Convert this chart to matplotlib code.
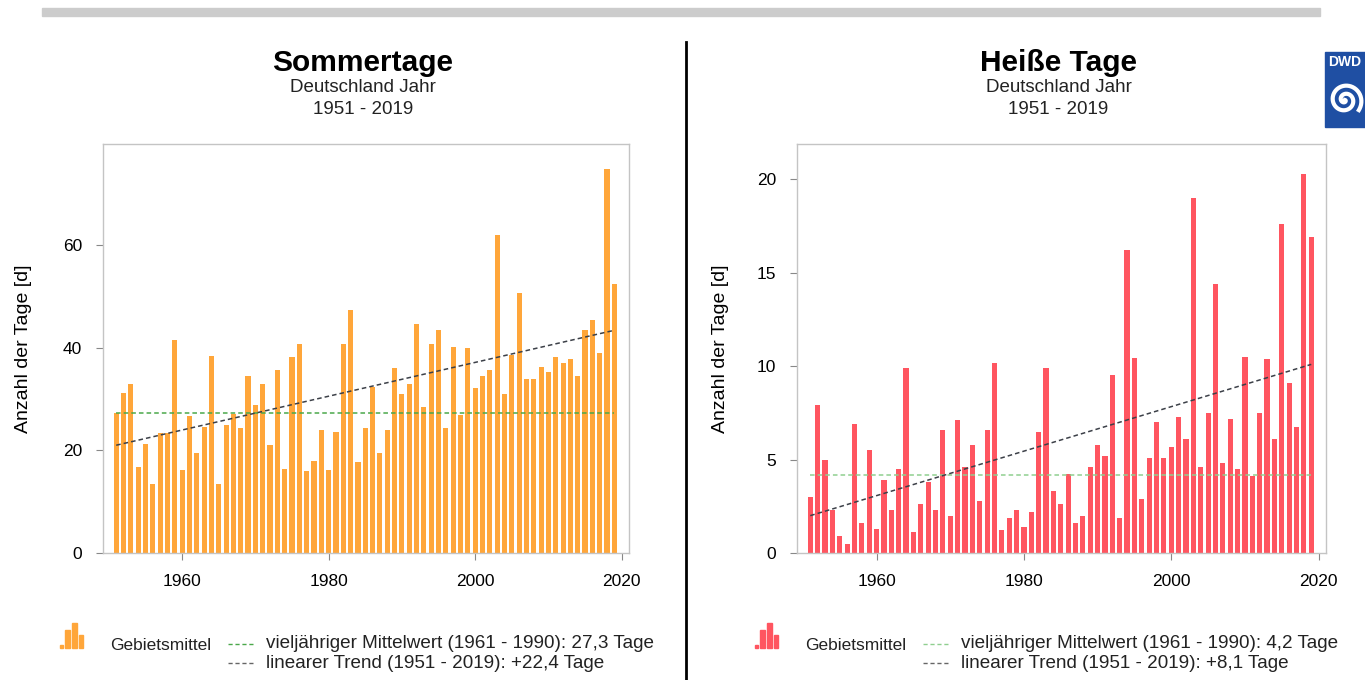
import numpy as np
import matplotlib
matplotlib.use('Agg')
from matplotlib import pyplot as plt
from matplotlib.patches import Rectangle
from matplotlib.lines import Line2D

plt.rcParams['font.family'] = ['Liberation Sans', 'DejaVu Sans']

# Data
years = list(range(1951, 2020))

sommertage = [27.2, 31.1, 33.0, 16.8, 21.2, 13.4, 23.3, 23.3, 41.5, 16.2,
              26.7, 19.5, 24.5, 38.4, 13.4, 24.9, 27.1, 24.3, 34.4, 28.8,
              33.0, 21.0, 35.6, 16.3, 38.1, 40.7, 16.0, 18.0, 24.0, 16.2,
              23.6, 40.7, 47.3, 17.8, 24.3, 32.4, 19.4, 24.0, 36.0, 31.0,
              33.0, 44.7, 28.5, 40.8, 43.4, 24.3, 40.2, 26.9, 39.9, 32.1,
              34.4, 35.6, 62.0, 31.0, 38.6, 50.6, 34.0, 34.0, 36.3, 35.3,
              38.2, 37.0, 37.9, 34.4, 43.4, 45.4, 38.9, 74.9, 52.4]

heisse_tage = [3.0, 7.9, 5.0, 2.3, 0.9, 0.5, 6.9, 1.6, 5.5, 1.3,
               3.9, 2.3, 4.5, 9.9, 1.1, 2.6, 3.8, 2.3, 6.6, 2.0,
               7.1, 4.6, 5.8, 2.8, 6.6, 10.2, 1.25, 1.9, 2.3, 1.4,
               2.2, 6.5, 9.9, 3.3, 2.6, 4.25, 1.6, 2.0, 4.6, 5.8,
               5.2, 9.55, 1.9, 16.2, 10.45, 2.9, 5.1, 7.0, 5.1, 5.7,
               7.3, 6.1, 19.0, 4.6, 7.5, 14.4, 4.8, 7.2, 4.5, 10.5,
               4.1, 7.5, 10.4, 6.1, 17.6, 9.1, 6.75, 20.3, 16.9]

# mean 1961-1990 and trend endpoints (1951, 2019)
mean_sommer = 27.3
trend_sommer = [21.0, 43.4]
mean_heiss = 4.2
trend_heiss = [2.0, 10.1]

W, H = 1365, 680
fig = plt.figure(figsize=(13.65, 6.8), dpi=100)


def fx(px):
    return px / W


def fy(py):
    return 1 - py / H


def draw_panel(left_px, right_px, values, color, mean, trend, ylim, yticks,
               title, mean_color, mean_txt, trend_txt, leg_x, labelpad):
    ax = fig.add_axes([fx(left_px), fy(553), fx(right_px - left_px), (553 - 144) / H])
    ax.bar(years, values, width=0.7, color=color, zorder=2)
    ax.plot([years[0], years[-1]], [mean, mean], color=mean_color, ls=(0, (3, 2)), lw=1.1, zorder=3)
    ax.plot([years[0], years[-1]], trend, color='#3c4048', ls=(0, (3, 2)), lw=1.1, zorder=4)
    ax.set_xlim(1949.2, 2021.0)
    ax.set_ylim(*ylim)
    ax.set_xticks([1960, 1980, 2000, 2020])
    ax.set_yticks(yticks)
    for s in ax.spines.values():
        s.set_color('#c4c4c4')
        s.set_linewidth(1.0)
    ax.tick_params(direction='out', length=5, color='#888888', labelsize=12.5, pad=10)
    ax.tick_params(axis='x', pad=10)
    ax.set_ylabel('Anzahl der Tage [d]', fontsize=14, labelpad=labelpad)

    cx = (left_px + right_px) / 2 - 3
    fig.text(fx(cx), fy(63), title, fontsize=21.5, fontweight='bold', ha='center', va='center')
    fig.text(fx(cx), fy(88), 'Deutschland Jahr', fontsize=13.5, ha='center', va='center', color='#222222')
    fig.text(fx(cx), fy(110), '1951 - 2019', fontsize=13.5, ha='center', va='center', color='#222222')

    # legend: bar icon (x offset, width, height in px)
    icon = [(-2, 3, 3), (3, 5, 18), (10, 5, 25), (17, 4, 13)]
    for dx, w, h in icon:
        fig.patches.append(Rectangle((fx(leg_x + dx), fy(648)), fx(w), h / H,
                                     transform=fig.transFigure, color=color))
    fig.text(fx(leg_x + 48), fy(645), 'Gebietsmittel', fontsize=12.5, va='center', color='#222222')
    lx0 = leg_x + 166
    fig.lines.append(Line2D([fx(lx0), fx(lx0 + 25)], [fy(644), fy(644)], transform=fig.transFigure,
                            color=mean_color, ls=(0, (3, 2)), lw=1))
    fig.lines.append(Line2D([fx(lx0), fx(lx0 + 25)], [fy(663), fy(663)], transform=fig.transFigure,
                            color='#666666', ls=(0, (3, 2)), lw=1))
    fig.text(fx(lx0 + 38), fy(644), mean_txt, fontsize=13.6, va='center', color='#222222')
    fig.text(fx(lx0 + 38), fy(663), trend_txt, fontsize=13.6, va='center', color='#222222')
    return ax


draw_panel(103, 629, sommertage, '#ffa63a', mean_sommer, trend_sommer, (0, 79.7), [0, 20, 40, 60],
           'Sommertage', '#4aa84a',
           'vieljähriger Mittelwert (1961 - 1990): 27,3 Tage',
           'linearer Trend (1951 - 2019): +22,4 Tage', 62, 22)

draw_panel(797, 1326, heisse_tage, '#ff5560', mean_heiss, trend_heiss, (0, 21.9), [0, 5, 10, 15, 20],
           'Heiße Tage', '#8fcf8f',
           'vieljähriger Mittelwert (1961 - 1990): 4,2 Tage',
           'linearer Trend (1951 - 2019): +8,1 Tage', 757, 20)

# top grey band and divider
fig.patches.append(Rectangle((fx(42), fy(16)), fx(1278), 8 / H, transform=fig.transFigure,
                             color='#cccccc'))
fig.lines.append(Line2D([fx(686), fx(686)], [fy(42), 0], transform=fig.transFigure,
                        color='black', lw=2))

# DWD logo
fig.patches.append(Rectangle((fx(1325), fy(127)), fx(40), 75 / H, transform=fig.transFigure,
                             color='#1f4fa3'))
fig.text(fx(1345), fy(62), 'DWD', fontsize=10, fontweight='bold', color='white', ha='center', va='center')
t = np.linspace(0, 4.2 * np.pi, 200)
r = 1.3 * t
fig.lines.append(Line2D(fx(1345 + r * np.cos(t)), fy(100 + r * np.sin(t)), transform=fig.transFigure,
                        color='white', lw=3))

fig.savefig('out.png', dpi=100, facecolor='white')
